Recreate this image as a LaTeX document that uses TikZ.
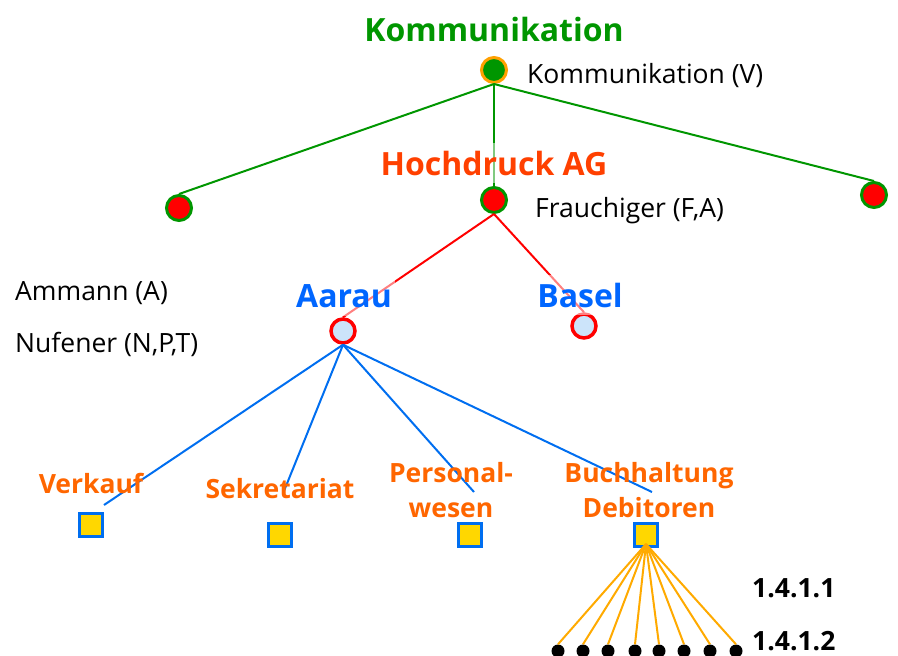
\documentclass[tikz,border=0pt]{standalone}
\usepackage{fontspec}
\setmainfont{Open Sans}
\usetikzlibrary{positioning}

\definecolor{kgreen}{RGB}{0,150,0}
\definecolor{rootrim}{RGB}{255,160,0}
\definecolor{hochred}{RGB}{255,64,0}
\definecolor{siteblue}{RGB}{0,102,255}
\definecolor{sitefill}{RGB}{204,228,250}
\definecolor{deptblue}{RGB}{0,110,240}
\definecolor{deptyellow}{RGB}{255,215,0}
\definecolor{deptorange}{RGB}{255,102,0}
\definecolor{leafline}{RGB}{255,170,0}

\begin{document}
\begin{tikzpicture}[x=1pt, y=-1pt,
	root/.style={circle, draw=rootrim, fill=kgreen, line width=3pt, minimum size=25pt, inner sep=0pt},
	firm/.style={circle, draw=kgreen, fill=red, line width=3pt, minimum size=25pt, inner sep=0pt},
	site/.style={circle, draw=red, fill=sitefill, line width=3.5pt, minimum size=24pt, inner sep=0pt},
	dept/.style={rectangle, draw=deptblue, fill=deptyellow, line width=3pt, minimum size=23pt, inner sep=0pt},
	leaf/.style={circle, fill=black, minimum size=13pt, inner sep=0pt},
	head/.style={font=\bfseries\fontsize{32}{36}\selectfont, inner sep=0pt},
	veil/.style={fill=white, fill opacity=0.5, text opacity=1, inner xsep=3pt, inner ysep=8pt},
	person/.style={font=\fontsize{26.5}{30}\selectfont, inner sep=0pt, anchor=west},
	unit/.style={font=\bfseries\fontsize{26.5}{35}\selectfont, text=deptorange, align=center, inner sep=0pt},
	code/.style={font=\bfseries\fontsize{26.5}{30}\selectfont, inner sep=0pt, anchor=west},
	tie/.style={line width=2pt}
]
	\useasboundingbox (0,0) rectangle (898,656);

	% Knoten
	\node[root] (komm) at (494,70) {};
	\node[firm] (firmL) at (179,208) {};
	\node[firm] (hoch) at (494,200) {};
	\node[firm] (firmR) at (874,195) {};
	\node[site] (aarau) at (343,331) {};
	\node[site] (basel) at (584,326) {};
	\node[dept] (verkauf) at (91,525) {};
	\node[dept] (sekr) at (280,535) {};
	\node[dept] (pers) at (470,535) {};
	\node[dept] (buch) at (646,535) {};
	\foreach \x [count=\i] in {558,583,608,635,659,684,710,736}
		\node[leaf] (leaf\i) at (\x,651) {};

	\coordinate (verkaufEnd) at (104,505);
	\coordinate (sekrEnd) at (284,491);
	\coordinate (persEnd) at (474,492);
	\coordinate (buchEnd) at (652,492);

	% Verbindungen
	\draw[tie, kgreen] (komm.south) -- (firmL.north);
	\draw[tie, kgreen] (komm.south) -- (hoch.north);
	\draw[tie, kgreen] (komm.south) -- (firmR.north);
	\draw[tie, red] (hoch.south) -- (aarau.north);
	\draw[tie, red] (hoch.south) -- (basel.north);
	\foreach \e in {verkaufEnd, sekrEnd, persEnd, buchEnd}
		\draw[tie, deptblue] (aarau.south) -- (\e);
	\foreach \i in {1,...,8}
		\draw[tie, leafline] ([yshift=4pt]buch.south) -- (leaf\i.north);

	% Beschriftungen
	\node[head, text=kgreen] (kommLabel) at (494,29) {Kommunikation};
	\node[person] at (527,76) {Kommunikation (V)};
	\node[head, veil, text=hochred] (hochLabel) at (494,163) {Hochdruck AG};
	\node[person] at (535,211) {Frauchiger (F,A)};
	\node[head, veil, text=siteblue] (aarauLabel) at (344,296) {Aarau};
	\node[head, veil, text=siteblue] (baselLabel) at (580,295) {Basel};
	\node[person] at (15,293) {Ammann (A)};
	\node[person] at (15,344) {Nufener (N,P,T)};

	\node[unit, above=18pt of verkauf] {Verkauf};
	\node[unit, above=23pt of sekr] {Sekretariat};
	\node[unit, above=4pt of pers, xshift=-19pt] {Personal-\\wesen};
	\node[unit, above=4pt of buch, xshift=3pt] {Buchhaltung\\Debitoren};

	\node[code] at (752,588) {1.4.1.1};
	\node[code] at (752,641) {1.4.1.2};
\end{tikzpicture}
\end{document}
